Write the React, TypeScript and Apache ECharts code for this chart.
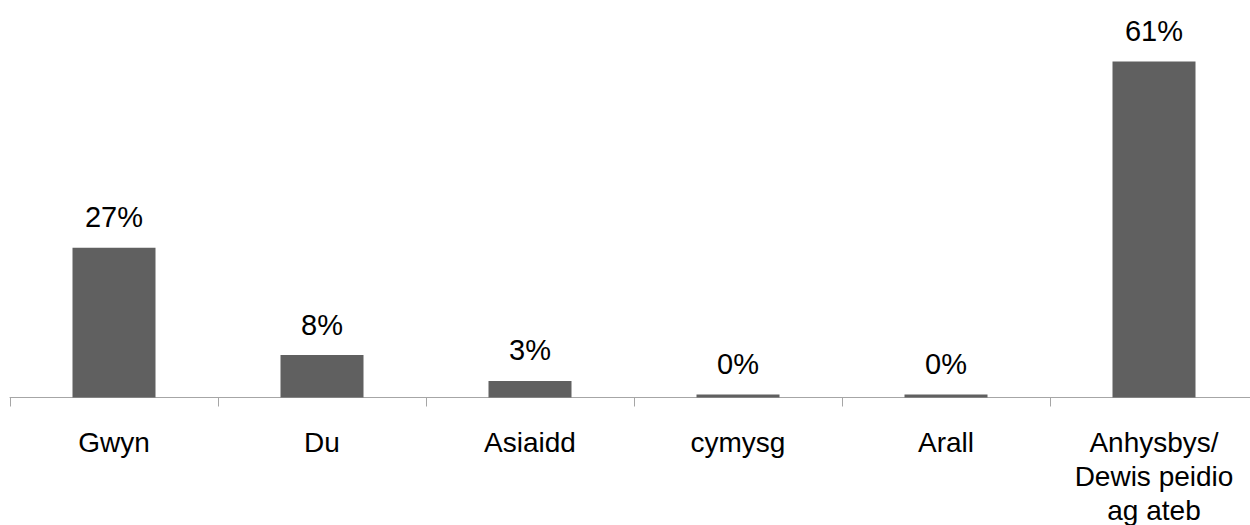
import React, { useEffect, useRef } from "react";
import * as echarts from "echarts";

const categories = ["Gwyn", "Du", "Asiaidd", "cymysg", "Arall", "Anhysbys/\nDewis peidio\nag ateb"];
const values = [27.2, 7.7, 3.0, 0.55, 0.55, 61.0];
const valueLabels = ["27%", "8%", "3%", "0%", "0%", "61%"];

export default function App() {
  const ref = useRef<HTMLDivElement>(null);
  useEffect(() => {
    const chart = echarts.init(ref.current!, null, { renderer: "svg" });
    chart.setOption({
      animation: false,
      backgroundColor: "#ffffff",
      grid: {
        left: 10,
        width: 1248,
        top: 17.5,
        height: 380,
        containLabel: false,
        outerBoundsMode: "none",
      },
      xAxis: {
        type: "category",
        data: categories,
        boundaryGap: true,
        axisLine: { show: true, lineStyle: { color: "#a6a6a6", width: 1 } },
        axisTick: { show: true, length: 9, alignWithLabel: false, lineStyle: { color: "#a6a6a6" } },
        axisLabel: {
          interval: 0,
          margin: 28,
          color: "#000000",
          fontFamily: "Liberation Sans, Arial, sans-serif",
          fontSize: 28,
          lineHeight: 34,
        },
      },
      yAxis: {
        type: "value",
        min: 0,
        max: 69,
        show: false,
        splitLine: { show: false },
      },
      series: [
        {
          type: "bar",
          data: values,
          barWidth: 83,
          itemStyle: { color: "#606060" },
          label: {
            show: true,
            position: "top",
            distance: 16,
            color: "#000000",
            fontFamily: "Liberation Sans, Arial, sans-serif",
            fontSize: 29,
            formatter: (p: any) => valueLabels[p.dataIndex],
          },
        },
      ],
    });
    return () => chart.dispose();
  }, []);
  return (
    <div
      ref={ref}
      style={{ position: "fixed", left: 0, top: 0, width: 1250, height: 525 }}
    />
  );
}
